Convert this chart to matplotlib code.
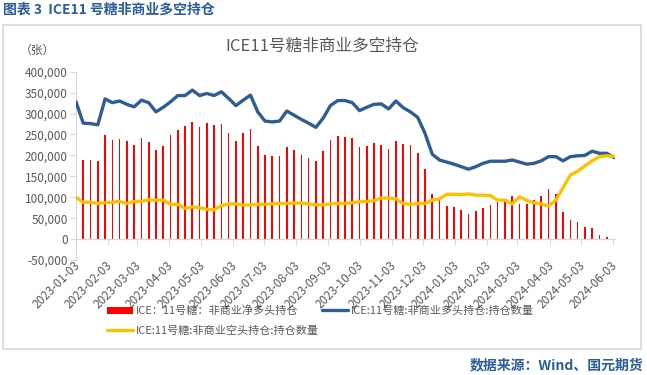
import matplotlib
matplotlib.use("Agg")
import matplotlib.pyplot as plt
import matplotlib.dates as mdates
from matplotlib.patches import Rectangle
from matplotlib.ticker import FuncFormatter
import pandas as pd

plt.rcParams['font.family'] = ['Noto Sans CJK SC', 'DejaVu Sans']

# ---- data (units: contracts, thousands) ----
first_week = "2023-01-03"
n_weeks = 75
net_k = [230, 189, 188, 187, 249, 237, 240, 234, 225, 241,
         233, 212, 223, 249, 261, 270, 280, 269, 278, 272,
         275, 253, 235, 253, 263, 222, 201, 198, 198, 221,
         213, 201, 194, 187, 211, 237, 246, 245, 241, 219,
         222, 229, 226, 215, 234, 227, 224, 206, 167, 108,
         95, 79, 76, 69, 61, 68, 75, 81, 89, 92,
         104, 83, 85, 93, 102, 119, 108, 64, 46, 41,
         29, 26, 10, 6, -3]
long_k = [328, 277, 276, 273, 335, 326, 330, 322, 316, 332,
          326, 304, 315, 328, 343, 343, 356, 343, 348, 343,
          352, 336, 319, 332, 344, 304, 282, 280, 282, 306,
          296, 286, 277, 267, 289, 319, 331, 331, 326, 307,
          315, 322, 323, 311, 330, 314, 304, 291, 253, 203,
          189, 184, 179, 173, 167, 173, 181, 186, 186, 186,
          189, 184, 179, 181, 187, 197, 197, 187, 197, 199,
          200, 210, 205, 205, 195]
short_k = [100, 88, 88, 85, 87, 88, 90, 85, 90, 90,
           94, 93, 93, 83, 83, 73, 77, 75, 71, 70,
           80, 84, 84, 81, 82, 83, 83, 84, 85, 85,
           86, 86, 84, 82, 82, 84, 85, 85, 87, 89,
           90, 92, 98, 98, 96, 85, 83, 85, 85, 93,
           96, 107, 107, 106, 108, 105, 105, 104, 93, 93,
           84, 101, 92, 87, 84, 79, 93, 123, 153, 162,
           175, 187, 197, 199, 198]
tick_labels = ["2023-01-03", "2023-02-03", "2023-03-03", "2023-04-03",
               "2023-05-03", "2023-06-03", "2023-07-03", "2023-08-03",
               "2023-09-03", "2023-10-03", "2023-11-03", "2023-12-03",
               "2024-01-03", "2024-02-03", "2024-03-03", "2024-04-03",
               "2024-05-03", "2024-06-03"]
y_ticks = [-50000, 0, 50000, 100000, 150000, 200000, 250000, 300000, 350000, 400000]

series_names = ["ICE：11号糖：非商业净多头持仓",
                "ICE:11号糖:非商业多头持仓:持仓数量",
                "ICE:11号糖:非商业空头持仓:持仓数量"]

dates = pd.date_range(first_week, periods=n_weeks, freq="7D")
net = [v * 1000 for v in net_k]
long_ = [v * 1000 for v in long_k]
short = [v * 1000 for v in short_k]
tick_dates = pd.to_datetime(tick_labels)

# ---- figure ----
W, H = 647, 375
fig = plt.figure(figsize=(W / 100, H / 100), dpi=100)

def fx(px):
    return px / W

def fy(py):
    return 1 - py / H

gray = '#595959'
blue_txt = '#2B5C9C'
axis_gray = '#D9D9D9'

ax = fig.add_axes([fx(76), fy(260), fx(615) - fx(76), fy(71.7) - fy(260)])

bars = ax.bar(dates, net, width=1.6, color='#FF0000', linewidth=0, zorder=2)
l_long, = ax.plot(dates, long_, color='#2F5C92', lw=2.4, zorder=3, solid_capstyle='round')
l_short, = ax.plot(dates, short, color='#FFC000', lw=2.4, zorder=4, solid_capstyle='round')

ax.set_xlim(dates[0], dates[-1] + pd.Timedelta(days=1))
ax.set_ylim(-50000, 400000)
ax.set_yticks(y_ticks)
ax.yaxis.set_major_formatter(FuncFormatter(lambda v, p: f"{int(v):,}"))
ax.tick_params(axis='y', colors=axis_gray, labelcolor=gray, labelsize=8.5,
               length=4, width=0.8, pad=2)

for s in ['top', 'right']:
    ax.spines[s].set_visible(False)
ax.spines['left'].set_color(axis_gray)
ax.spines['left'].set_linewidth(0.9)
ax.spines['bottom'].set_position(('data', 0))
ax.spines['bottom'].set_color(axis_gray)
ax.spines['bottom'].set_linewidth(0.9)
ax.set_xticks(tick_dates)
ax.tick_params(axis='x', colors=axis_gray, length=4, width=0.8, labelbottom=False)

trans = matplotlib.transforms.blended_transform_factory(ax.transData, ax.transAxes)
for d, lab in zip(tick_dates, tick_labels):
    ax.text(mdates.date2num(d) + 2, -0.02, lab, transform=trans, rotation=45,
            ha='right', va='center', rotation_mode='anchor', fontsize=8.5,
            color=gray, clip_on=False)

# legend
leg = fig.legend([bars, l_short, l_long], [series_names[0], series_names[2], series_names[1]],
                 ncol=2, loc='upper left', bbox_to_anchor=(fx(101), fy(300)),
                 frameon=False, fontsize=8, handlelength=2.4, handletextpad=0.2,
                 columnspacing=0.3, labelspacing=0.85, borderpad=0, labelcolor=gray)

# texts
fig.text(fx(3), fy(10), "图表 3  ICE11 号糖非商业多空持仓", ha='left', va='center',
         fontsize=10, fontweight='bold', color=blue_txt)
fig.text(fx(322), fy(46), "ICE11号糖非商业多空持仓", ha='center', va='center',
         fontsize=12, color=gray)
fig.text(fx(20), fy(50), "（张）", ha='left', va='center', fontsize=8.5, color=gray)
fig.text(fx(643), fy(365), "数据来源：Wind、国元期货", ha='right', va='center',
         fontsize=10, fontweight='bold', color=blue_txt)

fig.add_artist(Rectangle((fx(3), fy(349)), fx(641) - fx(3), fy(25) - fy(349),
                         transform=fig.transFigure, fill=False, ec=axis_gray, lw=1.3))

fig.savefig("out.png", dpi=100)
